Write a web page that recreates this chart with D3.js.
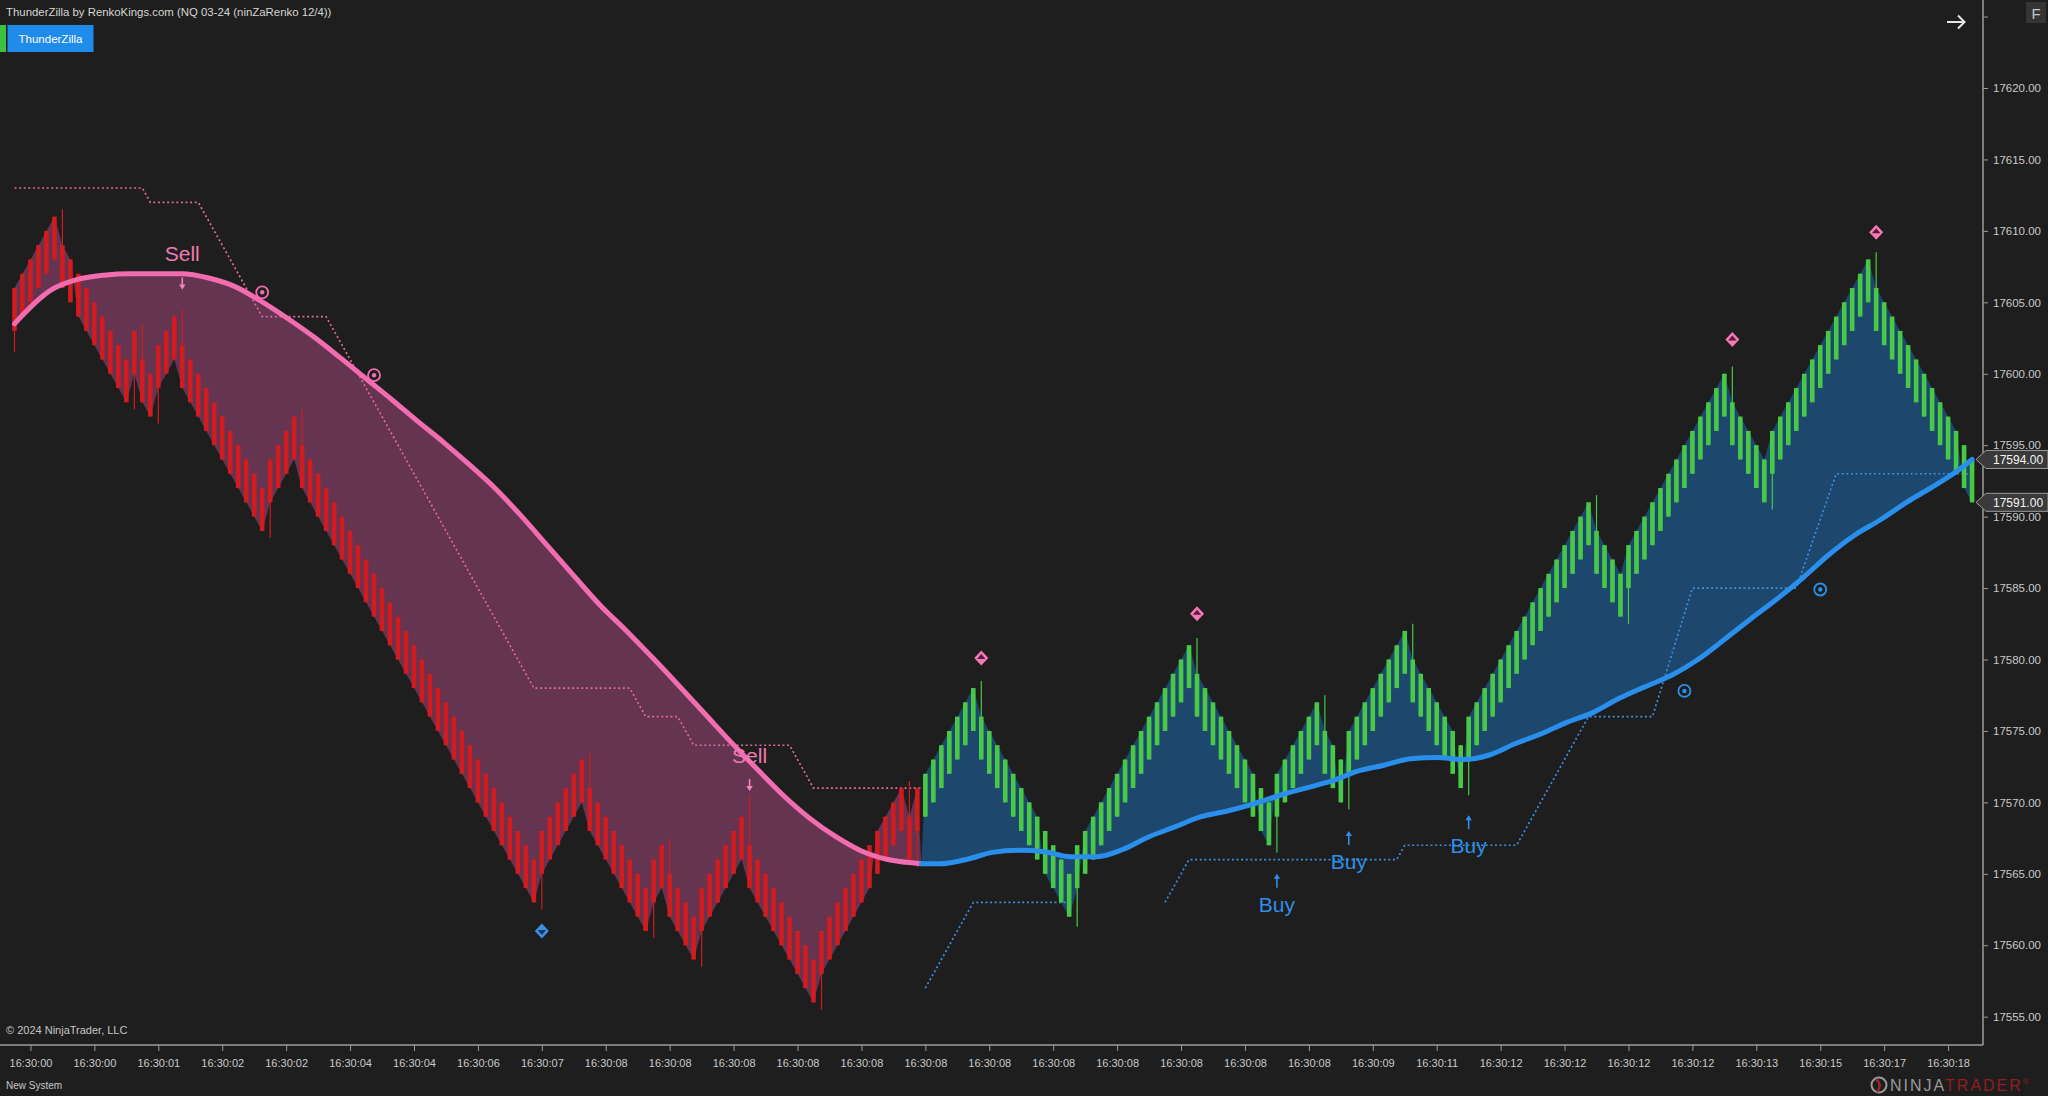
<!DOCTYPE html>
<html lang="en">
<head>
  <meta charset="UTF-8" />
  <title>ThunderZilla - NQ 03-24 ninZaRenko 12/4</title>
  <style>
    html, body { margin: 0; padding: 0; background: #1e1e1e; }
    svg { display: block; }
    text { font-family: "Liberation Sans", Arial, sans-serif; }
  </style>
</head>
<body>
  <svg id="chart" width="2048" height="1096"></svg>

  <script src="https://d3js.org/d3.v7.min.js"></script>
  <script>
    // Renko closes, one per brick
    const closes = [
      17606,17607,17608,17609,17610,17611,
      17606,17605,17604,17603,17602,17601,17600,17599,17598,
      17603,
      17598,17597,
      17602,17603,17604,
      17599,17598,17597,17596,17595,17594,17593,17592,17591,17590,17589,
      17594,17595,17596,17597,
      17592,17591,17590,17589,17588,17587,17586,17585,17584,17583,17582,17581,17580,17579,17578,
      17577,17576,17575,17574,17573,17572,17571,17570,17569,17568,17567,17566,17565,17564,17563,
      17568,17569,17570,17571,17572,17573,
      17568,17567,17566,17565,17564,17563,17562,17561,
      17566,17567,
      17562,17561,17560,17559,
      17564,17565,17566,17567,17568,17569,
      17564,17563,17562,17561,17560,17559,17558,17557,17556,
      17561,17562,17563,17564,17565,17566,17567,17568,17569,17570,17571,
      17566,17571,
      17572,17573,17574,17575,17576,17577,17578,
      17573,17572,17571,17570,17569,17568,17567,17566,17565,17564,17563,17562,
      17567,17568,17569,17570,17571,17572,17573,17574,17575,17576,17577,17578,17579,17580,17581,
      17576,17575,17574,17573,17572,17571,17570,17569,17568,17567,
      17572,17573,17574,17575,17576,17577,
      17572,17571,17570,
      17575,17576,17577,17578,17579,17580,17581,17582,
      17577,17576,17575,17574,17573,17572,17571,
      17576,17577,17578,17579,17580,17581,17582,17583,17584,17585,17586,17587,17588,17589,17590,17591,
      17586,17585,17584,17583,
      17588,17589,17590,17591,17592,17593,17594,17595,17596,17597,17598,17599,17600,
      17595,17594,17593,17592,17591,
      17596,17597,17598,17599,17600,17601,17602,17603,17604,17605,17606,17607,17608,
      17603,17602,17601,17600,17599,17598,17597,17596,17595,17594,17593,17592,17591
    ];
    const brick = 3;

    // Wick extremes [bar, price]
    const wickHigh = [[6,17611.5],[16,17603.5],[21,17604.5],[36,17597.5],[72,17573.5],[82,17567.5],
      [92,17570.5],[112,17571.5],[121,17578.5],[148,17581.5],[164,17577.5],[175,17582.5],
      [198,17591.5],[215,17600.5],[233,17608.5]];
    const wickLow = [[0,17601.5],[15,17597.5],[18,17596.5],[32,17588.5],[66,17562.5],[80,17560.5],
      [86,17558.5],[101,17555.5],[113,17565.5],[133,17561.3],[158,17566.5],[167,17569.5],
      [182,17570.5],[202,17582.5],[220,17590.5]];

    // First bar of the up trend (blue / green)
    const trendFlip = 114;

    // Smoothed trend line [bar, price]
    const maIdx = [0,4.7,7.9,11.2,14.5,17.7,21.0,24.3,27.6,30.8,34.1,37.4,40.6,43.9,47.2,50.4,53.7,57.0,60.3,63.5,
      66.8,70.1,73.3,76.6,79.9,83.1,86.4,89.7,93.0,96.2,99.5,102.8,106.0,109.3,112.6,113.5,115.8,119.1,122.4,125.7,
      128.9,132.2,135.5,138.7,142.0,145.3,148.5,151.8,155.1,158.4,161.6,164.9,168.2,171.4,174.7,178.0,181.3,184.5,187.8,191.1,
      194.3,197.6,200.9,204.1,207.4,210.7,214.0,217.2,220.5,223.8,227.0,230.3,233.6,236.8,240.1,243.4,245.0];
    const maVal = [17603.5,17605.9,17606.6,17606.9,17607.0,17607.0,17607.0,17606.7,17606.1,17605.1,
      17603.9,17602.6,17601.2,17599.7,17598.2,17596.7,17595.2,17593.6,17591.9,17590.0,
      17587.9,17585.8,17583.8,17582.0,17580.1,17578.2,17576.2,17574.2,17572.3,17570.5,
      17568.9,17567.6,17566.6,17566.0,17565.75,17565.7,17565.7,17566.0,17566.5,17566.65,
      17566.55,17566.2,17566.2,17566.7,17567.6,17568.3,17569.0,17569.4,17569.9,17570.5,
      17571.0,17571.5,17572.2,17572.6,17573.05,17573.15,17573.0,17573.3,17574.1,17574.8,
      17575.6,17576.3,17577.3,17578.1,17578.9,17580.0,17581.4,17582.8,17584.2,17585.7,
      17587.3,17588.7,17589.8,17591.0,17592.1,17593.3,17594.0];

    // Trailing stop lines [bar, price]
    const stopDown = [[0,17613],[16,17613],[17,17612],[23,17612],[31,17604],[39,17604],[65,17578],[77,17578],
      [79,17576],[83,17576],[85,17574],[97,17574],[100,17571],[113.5,17571]];
    const stopUpA = [[114,17557],[120,17563],[132,17563]];
    const stopUpB = [[144,17563],[147,17566],[173,17566],[174,17567],[188,17567],[197,17576],[205,17576],
      [210,17585],[223,17585],[228,17593],[245,17593]];

    // Signals
    const sellBars = [21, 92];
    const sellTips = [17605.9, 17570.8];
    const buyBars = [158, 167, 182];
    const buyTips = [17565.0, 17568.0, 17569.1];
    const topDiamondBars = [121, 148, 215, 233];
    const topDiamondPrices = [17580.1, 17583.2, 17602.4, 17609.9];
    const bottomDiamondBars = [66];
    const bottomDiamondPrices = [17561.0];
    const dotDownBars = [31, 45];
    const dotDownPrices = [17605.7, 17599.9];
    const dotUpBars = [209, 226];
    const dotUpPrices = [17577.8, 17584.9];

    // Axis labels
    const priceTicks = [17555,17560,17565,17570,17575,17580,17585,17590,17595,17600,17605,17610,17615,17620,17625];
    const timeLabels = ["16:30:00","16:30:00","16:30:01","16:30:02","16:30:02","16:30:04","16:30:04",
      "16:30:06","16:30:07","16:30:08","16:30:08","16:30:08","16:30:08","16:30:08","16:30:08",
      "16:30:08","16:30:08","16:30:08","16:30:08","16:30:08","16:30:08","16:30:09","16:30:11",
      "16:30:12","16:30:12","16:30:12","16:30:12","16:30:13","16:30:15","16:30:17","16:30:18"];

    // Colours
    const RED = "#d11b1f", GREEN = "#47c846";
    const PINK = "#f26cb0", BLUE = "#2a8fec";
    const PINK_FILL = "#643450", BLUE_FILL = "#1d476c";

    const plotRight = 1983, plotBottom = 1045;
    const svg = d3.select("#chart");

    const n = closes.length;
    const x = d3.scaleLinear().domain([0, n - 1]).range([14.5, 14.5 + 7.99 * (n - 1)]);
    const y = d3.scaleLinear().domain([17555, 17620]).range([1016.7, 88]);
    const maAt = d3.scaleLinear().domain(maIdx).range(maVal);

    // Build bricks
    const bars = closes.map((c, i) => {
      const up = i === 0 ? true : c > closes[i - 1];
      const open = up ? c - brick : c + brick;
      const top = Math.max(open, c), bot = Math.min(open, c);
      return { i, c, up, top, bot, hi: top, lo: bot };
    });
    wickHigh.forEach(([i, p]) => { bars[i].hi = Math.max(bars[i].hi, p); });
    wickLow.forEach(([i, p]) => { bars[i].lo = Math.min(bars[i].lo, p); });

    svg.append("rect").attr("width", 2048).attr("height", 1096).attr("fill", "#1e1e1e");
    svg.append("defs").append("clipPath").attr("id", "plot")
      .append("rect").attr("x", 0).attr("y", 0).attr("width", plotRight).attr("height", plotBottom);
    const g = svg.append("g").attr("clip-path", "url(#plot)");

    const maLine = d3.line().x(d => x(d[0])).y(d => y(d[1])).curve(d3.curveMonotoneX);
    const maPts = maIdx.map((d, k) => [d, maVal[k]]);
    const farEdge = b => ((b.top + b.bot) / 2 > maAt(b.i) ? b.top : b.bot);

    // Fill between trend line and bricks
    function bandPath(from, to, maFrom, maTo) {
      const top = maLine(maPts.filter(d => d[0] >= maFrom && d[0] <= maTo));
      const edge = d3.range(to, from - 1, -1).map(i => [x(i), y(farEdge(bars[i]))]);
      return top + "L" + d3.line()(edge).slice(1) + "Z";
    }
    g.append("path").attr("d", bandPath(0, trendFlip - 1, 0, trendFlip - 0.5)).attr("fill", PINK_FILL);
    g.append("path").attr("d", bandPath(trendFlip, n - 1, trendFlip - 0.5, n)).attr("fill", BLUE_FILL);

    // Trailing stops (dotted)
    const stopLine = d3.line().x(d => x(d[0])).y(d => y(d[1]));
    [[stopDown, "#e0689f"], [stopUpA, "#3b8fdc"], [stopUpB, "#3b8fdc"]].forEach(([pts, col]) => {
      g.append("path").attr("d", stopLine(pts)).attr("fill", "none")
        .attr("stroke", col).attr("stroke-width", 1.7).attr("stroke-dasharray", "2,2.6");
    });

    // Bricks: wicks and bodies
    const barG = g.append("g");
    barG.selectAll("line").data(bars).enter().append("line")
      .attr("x1", d => x(d.i)).attr("x2", d => x(d.i))
      .attr("y1", d => y(d.hi)).attr("y2", d => y(d.lo))
      .attr("stroke", d => (d.i < trendFlip ? RED : GREEN)).attr("stroke-width", 1.2);
    barG.selectAll("rect").data(bars).enter().append("rect")
      .attr("x", d => x(d.i) - 2.3).attr("width", 4.6)
      .attr("y", d => y(d.top)).attr("height", d => y(d.bot) - y(d.top))
      .attr("fill", d => (d.i < trendFlip ? RED : GREEN));

    // Trend line
    g.append("path").attr("d", maLine(maPts.filter(d => d[0] <= trendFlip - 0.5)))
      .attr("fill", "none").attr("stroke", PINK).attr("stroke-width", 5).attr("stroke-linecap", "round");
    g.append("path").attr("d", maLine(maPts.filter(d => d[0] >= trendFlip - 0.5)))
      .attr("fill", "none").attr("stroke", BLUE).attr("stroke-width", 5).attr("stroke-linecap", "round");

    // Diamonds
    topDiamondBars.forEach((b, k) => {
      const gx = x(b), gy = y(topDiamondPrices[k]);
      g.append("path").attr("d", `M${gx},${gy - 7.5}L${gx + 7},${gy}L${gx},${gy + 7.5}L${gx - 7},${gy}Z`).attr("fill", "#f27ab6");
      g.append("path").attr("d", `M${gx},${gy - 4}L${gx + 4.2},${gy + 1}L${gx - 4.2},${gy + 1}Z`).attr("fill", "#5c1838");
    });
    bottomDiamondBars.forEach((b, k) => {
      const gx = x(b), gy = y(bottomDiamondPrices[k]);
      g.append("path").attr("d", `M${gx},${gy - 7.5}L${gx + 7},${gy}L${gx},${gy + 7.5}L${gx - 7},${gy}Z`).attr("fill", "#3d8fe6");
      g.append("path").attr("d", `M${gx},${gy + 4}L${gx + 4.2},${gy - 1}L${gx - 4.2},${gy - 1}Z`).attr("fill", "#123a66");
    });

    // Target dots
    function targetDot(b, p, col) {
      g.append("circle").attr("cx", x(b)).attr("cy", y(p)).attr("r", 6)
        .attr("fill", "none").attr("stroke", col).attr("stroke-width", 1.8);
      g.append("circle").attr("cx", x(b)).attr("cy", y(p)).attr("r", 2.2).attr("fill", col);
    }
    dotDownBars.forEach((b, k) => targetDot(b, dotDownPrices[k], PINK));
    dotUpBars.forEach((b, k) => targetDot(b, dotUpPrices[k], BLUE));

    // Sell / Buy signals
    sellBars.forEach((b, k) => {
      const sx = x(b), tip = y(sellTips[k]);
      g.append("path").attr("d", `M${sx},${tip - 12}L${sx},${tip - 2}`).attr("stroke", "#f088bc").attr("stroke-width", 1.6);
      g.append("path").attr("d", `M${sx - 3.2},${tip - 5}L${sx},${tip}L${sx + 3.2},${tip - 5}Z`).attr("fill", "#f088bc");
      g.append("text").attr("x", sx).attr("y", tip - 28).attr("text-anchor", "middle")
        .attr("font-size", 21).attr("fill", "#f07ab4").text("Sell");
    });
    buyBars.forEach((b, k) => {
      const bx = x(b), tip = y(buyTips[k]);
      g.append("path").attr("d", `M${bx},${tip + 2}L${bx},${tip + 14}`).attr("stroke", "#2f8fe8").attr("stroke-width", 1.6);
      g.append("path").attr("d", `M${bx - 3.2},${tip + 5}L${bx},${tip}L${bx + 3.2},${tip + 5}Z`).attr("fill", "#2f8fe8");
      g.append("text").attr("x", bx).attr("y", tip + 38).attr("text-anchor", "middle")
        .attr("font-size", 21).attr("fill", "#2f8fe8").text("Buy");
    });

    // Axes
    const axisCol = "#9c9c9c", labelCol = "#c9c9c9";
    svg.append("line").attr("x1", plotRight).attr("x2", plotRight).attr("y1", 0).attr("y2", plotBottom)
      .attr("stroke", axisCol).attr("stroke-width", 1.5);
    svg.append("line").attr("x1", 0).attr("x2", plotRight).attr("y1", plotBottom).attr("y2", plotBottom)
      .attr("stroke", axisCol).attr("stroke-width", 1.5);

    const yAxis = svg.append("g").attr("transform", `translate(${plotRight},0)`)
      .call(d3.axisRight(y).tickValues(priceTicks).tickSize(5).tickPadding(5)
        .tickFormat(d => (d > 17620 ? "" : d3.format(".2f")(d))));
    yAxis.select(".domain").remove();
    yAxis.selectAll("line").attr("stroke", axisCol);
    yAxis.selectAll("text").attr("fill", labelCol).attr("font-size", 11.5)
      .attr("font-family", "'Liberation Sans', Arial, sans-serif");

    const xAxis = svg.append("g").attr("transform", `translate(0,${plotBottom})`)
      .call(d3.axisBottom(x).tickValues(d3.range(2, n, 8)).tickSize(6).tickPadding(8)
        .tickFormat((d, k) => timeLabels[k]));
    xAxis.select(".domain").remove();
    xAxis.selectAll("line").attr("stroke", axisCol);
    xAxis.selectAll("text").attr("fill", labelCol).attr("font-size", 11)
      .attr("font-family", "'Liberation Sans', Arial, sans-serif");

    // Price tags: trend line value and last close
    [maVal[maVal.length - 1], closes[n - 1]].forEach(p => {
      const cy = y(p);
      svg.append("path").attr("d", `M1976,${cy}L1986,${cy - 9}L2048,${cy - 9}L2048,${cy + 9}L1986,${cy + 9}Z`)
        .attr("fill", "#3a3a3a").attr("stroke", "#9a9a9a").attr("stroke-width", 1);
      svg.append("text").attr("x", 1993).attr("y", cy + 4.3).attr("font-size", 12)
        .attr("fill", "#f4f4f4").text(d3.format(".2f")(p));
    });

    // Header
    svg.append("text").attr("x", 6).attr("y", 16).attr("font-size", 11.4).attr("fill", "#d6d6d6")
      .text("ThunderZilla by RenkoKings.com (NQ 03-24 (ninZaRenko 12/4))");
    svg.append("rect").attr("x", 0).attr("y", 25).attr("width", 6).attr("height", 27).attr("fill", "#3cc23c");
    svg.append("rect").attr("x", 7.5).attr("y", 25).attr("width", 86).attr("height", 27).attr("fill", "#1f8bea");
    svg.append("text").attr("x", 50.5).attr("y", 43).attr("text-anchor", "middle").attr("font-size", 11.5)
      .attr("fill", "#ffffff").text("ThunderZilla");

    // Top-right controls
    svg.append("path").attr("d", "M1947,22L1964,22M1958,15.5L1964.5,22L1958,28.5")
      .attr("fill", "none").attr("stroke", "#e6e6e6").attr("stroke-width", 2);
    svg.append("rect").attr("x", 2026).attr("y", 2).attr("width", 20).attr("height", 21).attr("fill", "#353535");
    svg.append("text").attr("x", 2036).attr("y", 18.5).attr("text-anchor", "middle").attr("font-size", 15)
      .attr("fill", "#c4c4c4").text("F");

    // Footer
    svg.append("text").attr("x", 6).attr("y", 1034).attr("font-size", 11).attr("fill", "#c6c6c6")
      .text("© 2024 NinjaTrader, LLC");
    svg.append("text").attr("x", 6).attr("y", 1089).attr("font-size", 10).attr("fill", "#c6c6c6")
      .text("New System");

    const logo = svg.append("g");
    logo.append("circle").attr("cx", 1879).attr("cy", 1085).attr("r", 7.5)
      .attr("fill", "none").attr("stroke", "#9c9c9c").attr("stroke-width", 2);
    logo.append("path").attr("d", "M1876,1079Q1883,1085 1877,1092").attr("fill", "none")
      .attr("stroke", "#a3242a").attr("stroke-width", 2.4);
    const lt = logo.append("text").attr("x", 1890).attr("y", 1091).attr("font-size", 16)
      .attr("letter-spacing", 2);
    lt.append("tspan").attr("fill", "#9a9a9a").text("NINJA");
    lt.append("tspan").attr("fill", "#8f1d22").text("TRADER");
    lt.append("tspan").attr("fill", "#8f1d22").attr("font-size", 8).attr("dy", -7).text("®");
  </script>
</body>
</html>
